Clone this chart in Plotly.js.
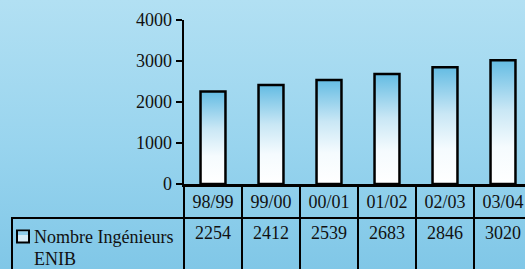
<!DOCTYPE html>
<html><head><meta charset="utf-8">
<script src="https://cdn.plot.ly/plotly-3.0.1.min.js"></script>
<style>html,body{margin:0;padding:0;overflow:hidden;background:#9bd5ef}#chart{width:525px;height:269px}</style>
</head><body><div id="chart"></div>
<script>
const categories = ['98/99','99/00','00/01','01/02','02/03','03/04'];
const values = [2254, 2412, 2539, 2683, 2846, 3020];
const seriesLines = ['Nombre Ingénieurs', 'ENIB'];
const yTicks = [0, 1000, 2000, 3000, 4000];

const W = 525, H = 269, L = 184, R = 0, T = 20, B = 85;
const pw = W - L - R, ph = H - T - B;
const colW = 58;
const xr = [-0.5, -0.5 + pw / colW];
const px = x => (x - L) / pw;
const py = y => (H - B - y) / ph;
const halfW = 0.215;
const FONT = 'Liberation Serif, DejaVu Serif, serif';
const FS = 18;

function svgURI(svg){ return 'data:image/svg+xml;utf8,' + encodeURIComponent(svg); }
const bgSVG = svgURI('<svg xmlns="http://www.w3.org/2000/svg" width="100" height="100" viewBox="0 0 100 100" preserveAspectRatio="none"><defs><linearGradient id="g" x1="0" y1="0" x2="0" y2="1"><stop offset="0" stop-color="#b2e0f3"/><stop offset="0.55" stop-color="#98d4ee"/><stop offset="1" stop-color="#80c7e7"/></linearGradient></defs><rect width="100" height="100" fill="url(#g)"/></svg>');

const traces = values.map((v, i) => ({
  type: 'scatter', mode: 'lines',
  x: [i - halfW, i - halfW, i + halfW, i + halfW, i - halfW],
  y: [0, v, v, 0, 0],
  fill: 'toself',
  fillgradient: {type: 'vertical', colorscale: [[0, '#ffffff'], [0.3, '#f5fbfe'], [0.6, '#c9e7f5'], [1, '#64bce3']]},
  line: {color: '#000', width: 2.5},
  hoverinfo: 'skip', showlegend: false
}));

const shapes = [];
categories.forEach((c, i) => {
  const xb = i + 0.5;
  if (xb < xr[1]) shapes.push({type: 'line', xref: 'x', yref: 'paper', x0: xb, x1: xb, y0: 0, y1: py(H + 5), line: {color: '#000', width: 2}});
});
shapes.push({type: 'line', xref: 'paper', yref: 'paper', x0: px(11), x1: px(W + 5), y0: py(218), y1: py(218), line: {color: '#000', width: 2}});
shapes.push({type: 'line', xref: 'paper', yref: 'paper', x0: px(12), x1: px(12), y0: py(217), y1: py(H + 5), line: {color: '#000', width: 2}});
shapes.push({type: 'line', xref: 'paper', yref: 'paper', x0: px(L), x1: px(L), y0: 0, y1: py(H + 5), line: {color: '#000', width: 2}});
shapes.push({type: 'rect', xref: 'paper', yref: 'paper', x0: px(17), x1: px(29), y0: py(230.5), y1: py(242.5), line: {color: '#000', width: 2},
  fillcolor: '#d6ecf7'});
shapes.push({type: 'rect', xref: 'paper', yref: 'paper', x0: px(18), x1: px(28), y0: py(231.5), y1: py(235), line: {width: 0},
  fillcolor: '#8fcdea'});

const annotations = values.map((v, i) => ({
  xref: 'x', yref: 'paper', x: i, y: py(233), text: String(v), showarrow: false,
  xanchor: 'center', yanchor: 'middle', font: {family: FONT, size: FS, color: '#111'}
}));
seriesLines.forEach((t, k) => annotations.push({
  xref: 'paper', yref: 'paper', x: px(32), y: py(237 + k * 22), text: t, showarrow: false,
  xanchor: 'left', yanchor: 'middle', font: {family: FONT, size: FS, color: '#111'}
}));

const layout = {
  width: W, height: H,
  margin: {l: L, r: R, t: T, b: B, pad: 0},
  paper_bgcolor: '#9bd5ef', plot_bgcolor: 'rgba(0,0,0,0)',
  showlegend: false,
  font: {family: FONT, size: FS, color: '#111'},
  xaxis: {
    range: xr, tickvals: categories.map((c, i) => i), ticktext: categories,
    showgrid: false, zeroline: false, showline: true, linecolor: '#000', linewidth: 2.5,
    ticks: '', fixedrange: true, tickfont: {family: FONT, size: FS, color: '#111'}
  },
  yaxis: {
    range: [0, 4000], tickvals: yTicks, ticktext: yTicks.map(String),
    showgrid: false, zeroline: false, showline: true, linecolor: '#000', linewidth: 2.5,
    ticks: 'outside', ticklen: 6, tickwidth: 2, tickcolor: '#000', fixedrange: true,
    tickfont: {family: FONT, size: FS, color: '#111'}
  },
  shapes: shapes,
  annotations: annotations,
  images: [
    {source: bgSVG, xref: 'paper', yref: 'paper', x: px(0), y: py(0), sizex: W / pw, sizey: H / ph, xanchor: 'left', yanchor: 'top', sizing: 'stretch', layer: 'below'}
  ]
};

Plotly.newPlot('chart', traces, layout, {staticPlot: true, displayModeBar: false});
</script>
</body></html>
